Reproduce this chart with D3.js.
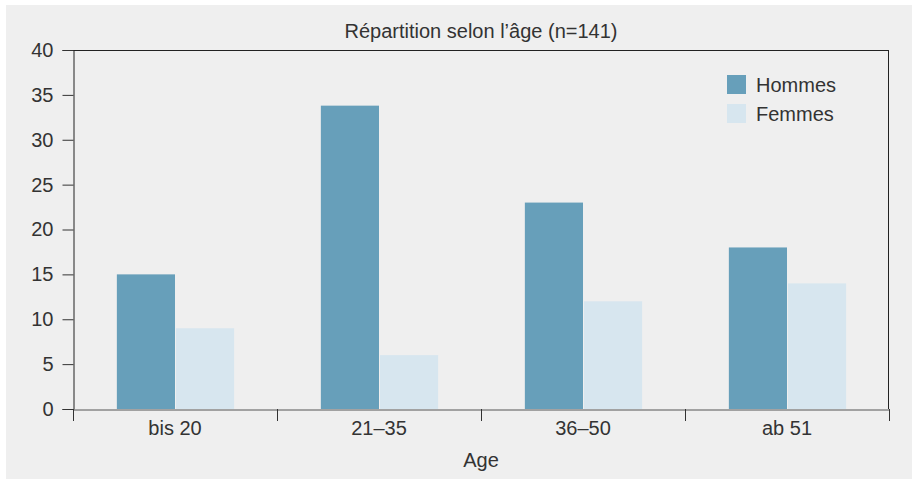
<!DOCTYPE html>
<html><head><meta charset="utf-8">
<script src="https://cdn.jsdelivr.net/npm/d3@7"></script>
<style>body{margin:0;background:#fff;} svg{display:block;font-family:"Liberation Sans",Arial,sans-serif;}</style>
</head><body>
<script>
const categories = ["bis 20", "21–35", "36–50", "ab 51"];
const seriesNames = ["Hommes", "Femmes"];
const hommes = [15, 33.8, 23, 18];
const femmes = [9, 6, 12, 14];
const yTicks = [0, 5, 10, 15, 20, 25, 30, 35, 40];
const title = "Répartition selon l’âge (n=141)";
const xTitle = "Age";
const colors = ["#679fba", "#d7e6ef"];

const W = 917, H = 481;
const m = {left: 73, right: 28, top: 50, bottom: 72};
const FONT = "Liberation Sans, Arial, sans-serif";
const svg = d3.select("body").append("svg").attr("width", W).attr("height", H);
svg.append("rect").attr("x", 6).attr("y", 5).attr("width", 906).attr("height", 474).attr("fill", "#efefef");

const x = d3.scaleBand().domain(categories).range([m.left, W - m.right]);
const y = d3.scaleLinear().domain([0, 40]).range([H - m.bottom, m.top]);
const bw = x.bandwidth() * 0.285;

const g = svg.append("g");
const series = [hommes, femmes];
series.forEach((vals, si) => {
  g.selectAll(null).data(categories).enter().append("rect")
    .attr("x", d => x(d) + x.bandwidth() / 2 + (si === 0 ? -bw : 1))
    .attr("y", (d, i) => y(vals[i]))
    .attr("width", bw)
    .attr("height", (d, i) => y(0) - y(vals[i]))
    .attr("fill", colors[si]);
});

// frame
svg.append("line").attr("x1", m.left).attr("x2", W - m.right).attr("y1", m.top + 0.5).attr("y2", m.top + 0.5).attr("stroke", "#222");
svg.append("line").attr("x1", W - m.right - 0.5).attr("x2", W - m.right - 0.5).attr("y1", m.top).attr("y2", y(0)).attr("stroke", "#222");

// y axis
const yAxis = svg.append("g").attr("transform", `translate(${m.left + 0.5},0)`)
  .call(d3.axisLeft(y).tickValues(yTicks).tickSize(11).tickPadding(9));
yAxis.select(".domain").attr("stroke", "#222");
yAxis.selectAll(".tick line").attr("stroke", "#333");
yAxis.selectAll("text").attr("font-size", 20).attr("fill", "#333").attr("font-family", FONT);

// x axis
const xAxis = svg.append("g").attr("transform", `translate(0,${y(0) + 0.5})`)
  .call(d3.axisBottom(x).tickSize(0).tickPadding(11));
xAxis.select(".domain").attr("stroke", "#555");
xAxis.selectAll("text").attr("font-size", 20).attr("fill", "#333").attr("font-family", FONT);
const bounds = categories.map(c => x(c)).concat([x(categories[categories.length - 1]) + x.bandwidth()]);
svg.append("g").selectAll("line").data(bounds).enter().append("line")
  .attr("x1", d => Math.round(d) + 0.5).attr("x2", d => Math.round(d) + 0.5)
  .attr("y1", y(0)).attr("y2", y(0) + 12).attr("stroke", "#333");

// titles
svg.append("text").attr("x", (m.left + W - m.right) / 2).attr("y", 38).attr("text-anchor", "middle")
  .attr("font-size", 20).attr("fill", "#333").text(title);
svg.append("text").attr("x", (m.left + W - m.right) / 2).attr("y", 467).attr("text-anchor", "middle")
  .attr("font-size", 20).attr("fill", "#333").text(xTitle);

// legend
const lg = svg.append("g").attr("transform", "translate(727,75)");
seriesNames.forEach((n, i) => {
  lg.append("rect").attr("x", 0).attr("y", i * 29).attr("width", 19).attr("height", 19).attr("fill", colors[i]);
  lg.append("text").attr("x", 29).attr("y", i * 29 + 17).attr("font-size", 20).attr("fill", "#333").text(n);
});
</script>
</body></html>
